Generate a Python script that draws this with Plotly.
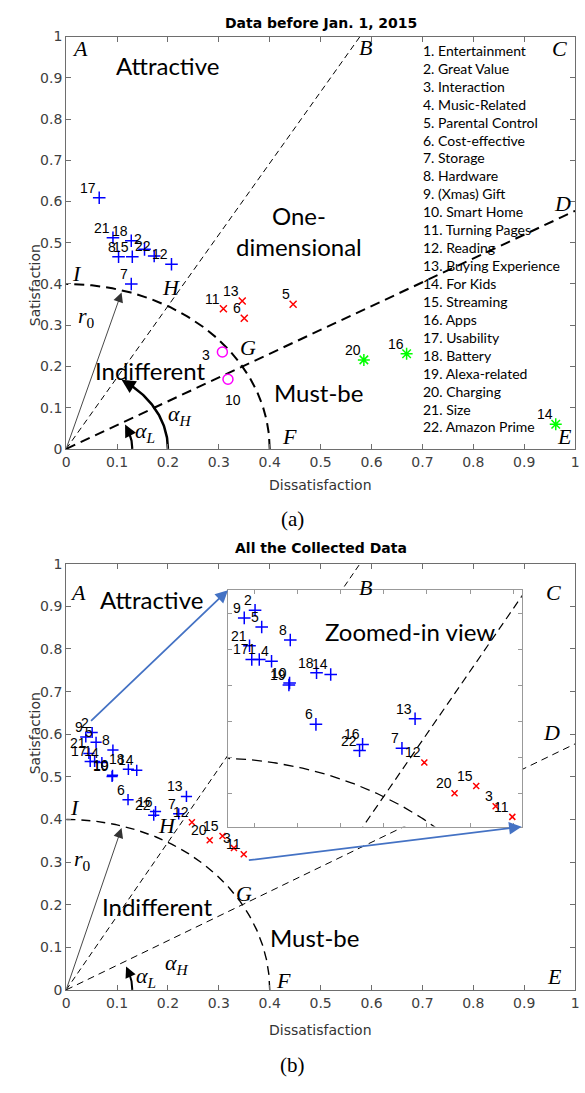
import math
import numpy as np
import plotly.graph_objects as go

# ---------------- data: (a) Data before Jan. 1, 2015 ----------------
a_attr_id = ["17", "21", "18", "2", "8", "15", "22", "12", "7"]
a_attr_x = [0.065, 0.092, 0.128, 0.154, 0.103, 0.130, 0.173, 0.207, 0.128]
a_attr_y = [0.609, 0.512, 0.505, 0.484, 0.466, 0.466, 0.468, 0.448, 0.400]

a_one_id = ["11", "13", "6", "5"]
a_one_x = [0.309, 0.346, 0.350, 0.446]
a_one_y = [0.340, 0.359, 0.317, 0.351]

a_ind_id = ["3", "10"]
a_ind_x = [0.307, 0.318]
a_ind_y = [0.235, 0.169]

a_must_id = ["20", "16", "14"]
a_must_x = [0.585, 0.669, 0.962]
a_must_y = [0.216, 0.231, 0.060]

# ---------------- data: (b) All the Collected Data ----------------
b_attr_id = ["9", "2", "5", "8", "21", "17", "1", "4", "19", "10", "18", "14",
             "6", "16", "22", "7", "13"]
b_attr_x = [0.0386, 0.0511, 0.0588, 0.0919, 0.0447, 0.0473, 0.0560, 0.0702,
            0.0903, 0.0911, 0.1223, 0.1387, 0.1216, 0.1756, 0.1721, 0.2212, 0.2364]
b_attr_y = [0.5935, 0.6040, 0.5810, 0.5630, 0.5550, 0.5360, 0.5360, 0.5335,
            0.5008, 0.5035, 0.5176, 0.5153, 0.4463, 0.4186, 0.4100, 0.4131, 0.4540]

b_one_id = ["12", "20", "15", "3", "11"]
b_one_x = [0.2471, 0.2821, 0.3072, 0.3297, 0.3490]
b_one_y = [0.3936, 0.3510, 0.3610, 0.3330, 0.3184]

feature_names = ["1. Entertainment", "2. Great Value", "3. Interaction",
                 "4. Music-Related", "5. Parental Control", "6. Cost-effective",
                 "7. Storage", "8. Hardware", "9. (Xmas) Gift", "10. Smart Home",
                 "11. Turning Pages", "12. Reading", "13. Buying Experience",
                 "14. For Kids", "15. Streaming", "16. Apps", "17. Usability",
                 "18. Battery", "19. Alexa-related", "20. Charging", "21. Size",
                 "22. Amazon Prime"]

# model parameters
r0 = 0.4
alpha_L_deg = 30
alpha_H_deg = 60
inset_xrange = [0.02, 0.36]
inset_yrange = [0.305, 0.632]

W, H = 585, 1093
def pxx(px):
    return px / W
def pxy(py):
    return 1 - py / H

BLUE, RED, MAG, GREEN = "#0000FF", "#FF0000", "#FF00FF", "#00FF00"
AXC = "#6e6e6e"
SANS = "DejaVu Sans"
SERIF = "Liberation Serif"
CAL = "Lato"

fig = go.Figure()

def add_line(x, y, xa, ya, width, dash, color="black"):
    fig.add_trace(go.Scatter(x=x, y=y, mode="lines", xaxis=xa, yaxis=ya,
                             line=dict(color=color, width=width, dash=dash),
                             hoverinfo="skip"))

def model_lines(xa, ya, wB, dB, wD, dD, wA, dA):
    th = np.linspace(0, math.pi / 2, 200)
    add_line(list(r0 * np.cos(th)), list(r0 * np.sin(th)), xa, ya, wA, dA)
    tH = math.tan(math.radians(alpha_H_deg))
    tL = math.tan(math.radians(alpha_L_deg))
    add_line([0, 1 / tH], [0, 1], xa, ya, wB, dB)
    add_line([0, 1], [0, tL], xa, ya, wD, dD)

# ---- chart (a) lines
model_lines("x", "y", 1.0, "6px,4px", 2.0, "10px,6px", 2.0, "10px,6px")
# ---- chart (b) lines
model_lines("x2", "y2", 1.0, "6px,4px", 1.0, "7px,5px", 1.4, "9px,6px")

annotations = []

def arc_arrow(xa, ya, rad, end_deg, width):
    th = np.linspace(0, math.radians(end_deg), 60)
    add_line(list(rad * np.cos(th)), list(rad * np.sin(th)), xa, ya, width, "solid")
    te = math.radians(end_deg + 3)
    tb = math.radians(end_deg - 6)
    annotations.append(dict(x=rad * math.cos(te), y=rad * math.sin(te),
                            ax=rad * math.cos(tb), ay=rad * math.sin(tb),
                            xref=xa, yref=ya, axref=xa, ayref=ya, showarrow=True,
                            arrowhead=2, arrowsize=1.1, arrowwidth=width,
                            arrowcolor="black", text="", standoff=0))

arc_arrow("x", "y", 0.2, 54, 2.5)
arc_arrow("x", "y", 0.13, 24, 2.2)
arc_arrow("x2", "y2", 0.13, 22, 2.0)

# r0 arrows
for xa, ya in [("x", "y"), ("x2", "y2")]:
    t = math.radians(74)
    annotations.append(dict(x=0.395 * math.cos(t), y=0.395 * math.sin(t), ax=0, ay=0,
                            xref=xa, yref=ya, axref=xa, ayref=ya, showarrow=True,
                            arrowhead=2, arrowsize=2.2, arrowwidth=0.9,
                            arrowcolor="#333", text="", standoff=0))

# ---- inset background and lines
fig.add_trace(go.Scatter(x=[inset_xrange[0], inset_xrange[1], inset_xrange[1], inset_xrange[0], inset_xrange[0]],
                         y=[inset_yrange[0], inset_yrange[0], inset_yrange[1], inset_yrange[1], inset_yrange[0]],
                         mode="lines", fill="toself", fillcolor="white",
                         line=dict(width=0, color="white"), xaxis="x3", yaxis="y3",
                         hoverinfo="skip"))
model_lines("x3", "y3", 1.2, "8px,5px", 1.0, "7px,5px", 1.3, "10px,6px")

# ---- markers
def markers(xs, ys, xa, ya, symbol, size, color, lw=1.5):
    fig.add_trace(go.Scatter(x=xs, y=ys, mode="markers", xaxis=xa, yaxis=ya,
                             marker=dict(symbol=symbol, size=size, color=color,
                                         line=dict(color=color, width=lw)),
                             hoverinfo="skip"))

markers(a_attr_x, a_attr_y, "x", "y", "cross-thin", 9, BLUE)
markers(a_one_x, a_one_y, "x", "y", "x-thin", 7, RED)
markers(a_ind_x, a_ind_y, "x", "y", "circle-open", 10, MAG)
markers(a_must_x, a_must_y, "x", "y", "asterisk-open", 10, GREEN)

markers(b_attr_x, b_attr_y, "x2", "y2", "cross-thin", 8, BLUE)
markers(b_one_x, b_one_y, "x2", "y2", "x-thin", 6, RED)
markers(b_attr_x, b_attr_y, "x3", "y3", "cross-thin", 9, BLUE)
markers(b_one_x, b_one_y, "x3", "y3", "x-thin", 6, RED)

# ---- point labels
def labels(ids, xs, ys, xa, ya, size=14, over=None):
    over = over or {}
    for i, x, y in zip(ids, xs, ys):
        dx, dy, xan, yan = over.get(i, (-2, 1, "right", "bottom"))
        annotations.append(dict(text=i, x=x, y=y, xref=xa, yref=ya, showarrow=False,
                                xanchor=xan, yanchor=yan, xshift=dx, yshift=dy,
                                borderpad=0,
                                font=dict(family="Liberation Sans", size=size, color="black")))

labels(a_attr_id, a_attr_x, a_attr_y, "x", "y")
labels(a_one_id, a_one_x, a_one_y, "x", "y")
labels(a_ind_id, a_ind_x, a_ind_y, "x", "y",
       over={"3": (-11, -3, "right", "middle"), "10": (5, -21, "center", "middle")})
labels(a_must_id, a_must_x, a_must_y, "x", "y")
labels(b_attr_id, b_attr_x, b_attr_y, "x2", "y2")
labels(b_one_id, b_one_x, b_one_y, "x2", "y2")
labels(b_attr_id, b_attr_x, b_attr_y, "x3", "y3")
labels(b_one_id, b_one_x, b_one_y, "x3", "y3")

# ---- text helpers
def txt(s, x, y, xref, yref, size, family, xanchor="center", yanchor="middle", color="black"):
    annotations.append(dict(text=s, x=x, y=y, xref=xref, yref=yref, showarrow=False,
                            xanchor=xanchor, yanchor=yanchor, borderpad=0,
                            font=dict(size=size, family=family, color=color)))

def it(s):
    return "<i>" + s + "</i>"

LET = 22
# chart (a) texts
for s, x, y in [("A", 0.027, 0.970), ("B", 0.589, 0.974), ("C", 0.969, 0.970),
                ("D", 0.976, 0.596), ("E", 0.980, 0.030), ("F", 0.438, 0.030),
                ("G", 0.358, 0.245), ("H", 0.207, 0.392), ("I", 0.022, 0.426),
                ("O", -0.049, -0.022)]:
    txt(it(s), x, y, "x", "y", LET, SERIF)
txt(it("r") + "<sub>0</sub>", 0.040, 0.321, "x", "y", LET, SERIF)
txt(it("α") + "<sub>" + it("H") + "</sub>", 0.224, 0.082, "x", "y", LET, SERIF)
txt(it("α") + "<sub>" + it("L") + "</sub>", 0.155, 0.042, "x", "y", LET, SERIF)
REG = 24
txt("Attractive", 0.199, 0.930, "x", "y", REG, CAL)
txt("One-", 0.458, 0.567, "x", "y", REG, CAL)
txt("dimensional", 0.458, 0.492, "x", "y", REG, CAL)
txt("Indifferent", 0.166, 0.191, "x", "y", REG, CAL)
txt("Must-be", 0.495, 0.137, "x", "y", REG, CAL)

for k, name in enumerate(feature_names):
    txt(name, pxx(424), pxy(43 + k * 18.2), "paper", "paper", 14, CAL, xanchor="left")

# chart (b) texts
for s, x, y in [("A", 0.023, 0.932), ("B", 0.589, 0.944), ("C", 0.957, 0.932),
                ("D", 0.953, 0.605), ("E", 0.959, 0.031), ("F", 0.427, 0.023),
                ("G", 0.349, 0.227), ("H", 0.198, 0.385), ("I", 0.017, 0.427),
                ("O", -0.058, -0.031)]:
    txt(it(s), x, y, "x2", "y2", LET, SERIF)
txt(it("r") + "<sub>0</sub>", 0.033, 0.304, "x2", "y2", LET, SERIF)
txt(it("α") + "<sub>" + it("H") + "</sub>", 0.217, 0.061, "x2", "y2", LET, SERIF)
txt(it("α") + "<sub>" + it("L") + "</sub>", 0.156, 0.030, "x2", "y2", LET, SERIF)
txt("Attractive", 0.167, 0.917, "x2", "y2", REG, CAL)
txt("Indifferent", 0.180, 0.196, "x2", "y2", REG, CAL)
txt("Must-be", 0.488, 0.124, "x2", "y2", REG, CAL)
txt("Zoomed-in view", 0.2307, 0.5744, "x3", "y3", 24, CAL)

# blue zoom arrows
for (x0, y0, x1, y1) in [(0.046, 0.628, 0.318, 0.938), (0.356, 0.304, 0.895, 0.383)]:
    annotations.append(dict(x=x1, y=y1, ax=x0, ay=y0, xref="x2", yref="y2",
                            axref="x2", ayref="y2", showarrow=True, arrowhead=2,
                            arrowsize=1.4, arrowwidth=1.8, arrowcolor="#4472C4",
                            text="", standoff=0))

# titles, axis titles, captions
txt("<b>Data before Jan. 1, 2015</b>", pxx(321), pxy(15), "paper", "paper", 14, SANS)
txt("<b>All the Collected Data</b>", pxx(321), pxy(548), "paper", "paper", 14, SANS)
txt("Dissatisfaction", pxx(321), pxy(484), "paper", "paper", 14, SANS, color="#333")
txt("Dissatisfaction", pxx(321), pxy(1037), "paper", "paper", 14, SANS, color="#333")
annotations.append(dict(text="Satisfaction", x=pxx(21), y=pxy(238), xref="paper", yref="paper",
                        showarrow=False, textangle=-90, font=dict(size=14, family=SANS, color="#333")))
annotations.append(dict(text="Satisfaction", x=pxx(21), y=pxy(780), xref="paper", yref="paper",
                        showarrow=False, textangle=-90, font=dict(size=14, family=SANS, color="#333")))
txt("(a)", pxx(293), pxy(519), "paper", "paper", 21, SERIF)
txt("(b)", pxx(293), pxy(1073), "paper", "paper", 21, SERIF)

tickvals = [round(0.1 * i, 1) for i in range(11)]
ticktext = ["0"] + [str(round(0.1 * i, 1)) for i in range(1, 10)] + ["1"]

main_ax = dict(range=[0, 1], tickvals=tickvals, ticktext=ticktext, ticks="inside",
               ticklen=5, tickcolor=AXC, showline=True, linecolor=AXC, linewidth=1,
               mirror="ticks", showgrid=False, zeroline=False,
               tickfont=dict(family=SANS, size=14, color="#404040"))
inset_ax = dict(ticks="inside", ticklen=4, tickcolor="#999", showline=True,
                linecolor="#999", linewidth=1, mirror="ticks", showgrid=False,
                zeroline=False, showticklabels=False, dtick=0.05, tick0=0)

XD = [pxx(63), pxx(579)]
fig.update_layout(
    width=W, height=H, margin=dict(l=0, r=0, t=0, b=0),
    paper_bgcolor="white", plot_bgcolor="white", showlegend=False,
    xaxis=dict(domain=XD, anchor="y", **main_ax),
    yaxis=dict(domain=[pxy(447.5), pxy(29)], anchor="x", **main_ax),
    xaxis2=dict(domain=XD, anchor="y2", **main_ax),
    yaxis2=dict(domain=[pxy(996.5), pxy(564)], anchor="x2", **main_ax),
    xaxis3=dict(domain=[pxx(227.3), pxx(525)], anchor="y3", range=inset_xrange, **inset_ax),
    yaxis3=dict(domain=[pxy(830.7), pxy(590.7)], anchor="x3", range=inset_yrange, **inset_ax),
    annotations=annotations,
)

fig.write_html("out.html", config={"displayModeBar": False, "staticPlot": True},
               post_script="document.body.style.margin='0';document.body.style.overflow='hidden';")
